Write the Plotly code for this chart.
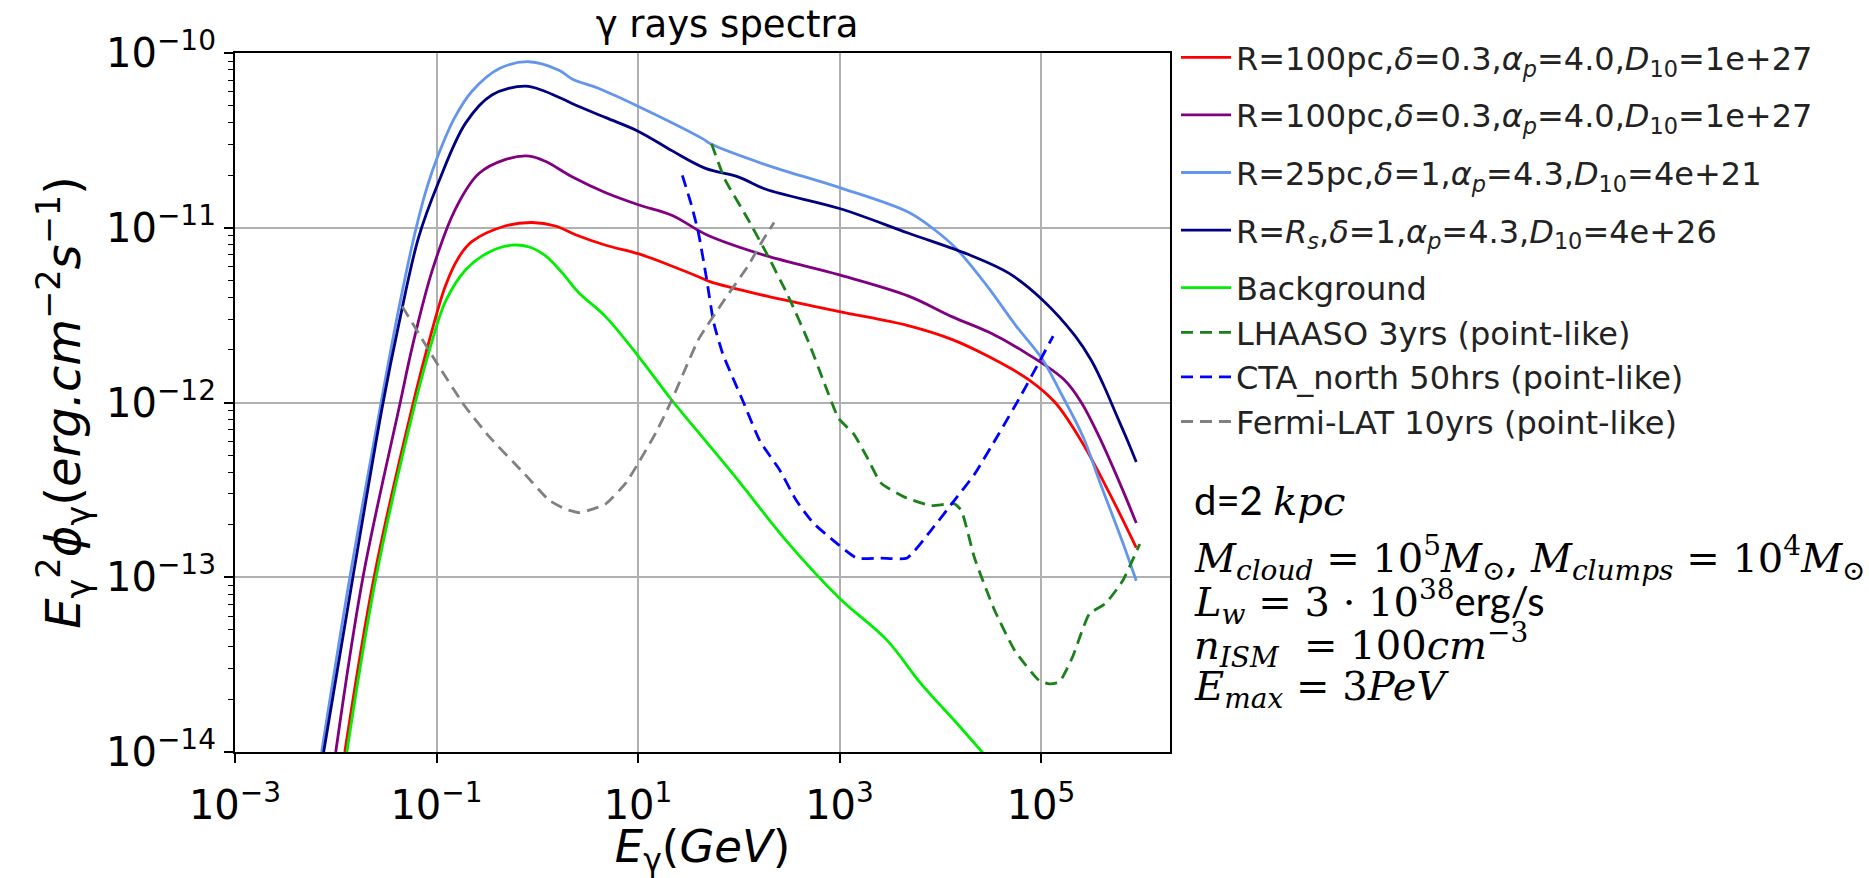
import numpy as np
import plotly.graph_objects as go

# ---------------- data ----------------
# energies: log10(E_gamma / GeV); fluxes: log10(E^2 Phi / erg cm^-2 s^-1)
red_logE = [-1.91, -1.62, -1.23, -1.06, -0.91, -0.78, -0.65, -0.32, -0.05, 0.18, 0.38, 0.68, 1.01, 1.34, 1.60,
            1.72, 2.27, 3.00, 3.68, 4.12, 4.49, 4.88, 5.14, 5.41, 5.68, 5.945]
red_logF = [-14.0, -13.0, -12.0, -11.62, -11.33, -11.17, -11.08, -10.99, -10.97, -10.99, -11.04, -11.10, -11.15,
            -11.22, -11.28, -11.31, -11.39, -11.48, -11.56, -11.64, -11.74, -11.87, -12.00, -12.23, -12.52, -12.83]

purple_logE = [-2.00, -1.73, -1.36, -1.24, -1.04, -0.81, -0.58, -0.32, -0.08, 0.08, 0.35, 0.68, 1.01, 1.34, 1.68,
               2.27, 3.00, 3.68, 4.12, 4.49, 4.86, 5.23, 5.40, 5.58, 5.81, 5.945]
purple_logF = [-14.0, -13.0, -12.0, -11.68, -11.24, -10.89, -10.69, -10.61, -10.59, -10.62, -10.71, -10.80, -10.87,
               -10.93, -11.04, -11.16, -11.27, -11.39, -11.51, -11.60, -11.72, -11.87, -12.00, -12.20, -12.50, -12.69]

lightblue_logE = [-2.14, -1.86, -1.55, -1.37, -1.21, -1.09, -0.98, -0.82, -0.65, -0.38, -0.08, 0.22, 0.35, 0.60,
                  1.02, 1.64, 1.72, 2.27, 3.00, 3.68, 3.94, 4.16, 4.46, 4.75, 5.01, 5.20, 5.42, 5.58, 5.81, 5.945]
lightblue_logF = [-14.0, -13.0, -12.0, -11.45, -11.02, -10.76, -10.58, -10.37, -10.22, -10.09, -10.05, -10.10,
                  -10.15, -10.20, -10.31, -10.49, -10.52, -10.64, -10.77, -10.91, -11.01, -11.12, -11.33, -11.56,
                  -11.75, -11.95, -12.20, -12.45, -12.80, -13.02]

navy_logE = [-2.12, -1.83, -1.53, -1.37, -1.18, -0.98, -0.71, -0.45, -0.12, 0.08, 0.35, 0.68, 1.01, 1.34, 1.67,
             2.00, 2.27, 3.00, 3.68, 4.31, 4.68, 5.01, 5.34, 5.50, 5.62, 5.74, 5.86, 5.945]
navy_logF = [-14.0, -13.0, -12.0, -11.54, -11.06, -10.74, -10.40, -10.24, -10.19, -10.22, -10.29, -10.37, -10.45,
             -10.56, -10.66, -10.71, -10.78, -10.89, -11.03, -11.16, -11.26, -11.41, -11.62, -11.76, -11.90, -12.06,
             -12.22, -12.34]

background_logE = [-1.89, -1.60, -1.21, -1.05, -0.91, -0.71, -0.48, -0.25, -0.08, 0.08, 0.25, 0.41, 0.68, 1.01,
                   1.34, 1.67, 2.00, 2.47, 3.00, 3.47, 3.81, 4.14, 4.43]
background_logF = [-14.0, -13.0, -12.0, -11.66, -11.42, -11.24, -11.14, -11.10, -11.11, -11.16, -11.26, -11.37,
                   -11.51, -11.74, -11.99, -12.22, -12.45, -12.79, -13.12, -13.36, -13.61, -13.82, -14.01]

lhaaso_logE = [1.73, 1.86, 2.09, 2.27, 2.49, 2.69, 2.85, 2.99, 3.14, 3.27, 3.41, 3.64, 3.91, 4.14, 4.21, 4.34,
               4.54, 4.74, 4.98, 5.08, 5.18, 5.31, 5.48, 5.64, 5.81, 5.98]
lhaaso_logF = [-10.52, -10.72, -10.95, -11.14, -11.39, -11.65, -11.89, -12.09, -12.18, -12.31, -12.46, -12.54,
               -12.59, -12.58, -12.62, -12.89, -13.19, -13.42, -13.59, -13.61, -13.60, -13.46, -13.21, -13.15,
               -13.02, -12.81]

cta_logE = [1.44, 1.53, 1.60, 1.68, 1.75, 1.84, 2.04, 2.21, 2.41, 2.57, 2.74, 2.94, 3.17, 3.41, 3.67, 3.91, 4.14,
            4.34, 4.58, 4.81, 4.98, 5.12]
cta_logF = [-10.70, -10.87, -11.03, -11.29, -11.54, -11.72, -11.99, -12.22, -12.39, -12.56, -12.69, -12.79, -12.89,
            -12.89, -12.89, -12.73, -12.56, -12.41, -12.18, -11.95, -11.77, -11.62]

fermi_logE = [-1.34, -0.98, -0.72, -0.47, -0.14, 0.12, 0.28, 0.42, 0.55, 0.68, 0.88, 1.01, 1.18, 1.34, 1.60, 1.86,
              2.09, 2.23, 2.35]
fermi_logF = [-11.45, -11.79, -12.02, -12.20, -12.40, -12.56, -12.61, -12.63, -12.61, -12.58, -12.46, -12.34, -12.17,
              -11.98, -11.64, -11.41, -11.22, -11.08, -10.97]

series_names = [
    "R=100pc,<i>δ</i>=0.3,<i>α<sub>p</sub></i>=4.0,<i>D</i><sub>10</sub>=1e+27",
    "R=100pc,<i>δ</i>=0.3,<i>α<sub>p</sub></i>=4.0,<i>D</i><sub>10</sub>=1e+27",
    "R=25pc,<i>δ</i>=1,<i>α<sub>p</sub></i>=4.3,<i>D</i><sub>10</sub>=4e+21",
    "R=<i>R<sub>s</sub></i>,<i>δ</i>=1,<i>α<sub>p</sub></i>=4.3,<i>D</i><sub>10</sub>=4e+26",
    "Background",
    "LHAASO 3yrs (point-like)",
    "CTA_north 50hrs (point-like)",
    "Fermi-LAT 10yrs (point-like)",
]

x_tick_vals = [1e-3, 1e-1, 1e1, 1e3, 1e5]
x_tick_text = ["10<sup>−3</sup>", "10<sup>−1</sup>", "10<sup>1</sup>", "10<sup>3</sup>", "10<sup>5</sup>"]
y_tick_vals = [1e-14, 1e-13, 1e-12, 1e-11, 1e-10]
y_tick_text = ["10<sup>−14</sup>", "10<sup>−13</sup>", "10<sup>−12</sup>", "10<sup>−11</sup>", "10<sup>−10</sup>"]

# ---------------- styling ----------------
W, H = 1869, 878
PL, PR, PT, PB = 235, 1170, 53, 752   # plot area in pixels

series = [
    (red_logE, red_logF, "#ff0000", None, "g1"),
    (purple_logE, purple_logF, "#800080", None, "g2"),
    (lightblue_logE, lightblue_logF, "#6495ed", None, "g3"),
    (navy_logE, navy_logF, "#000080", None, "g4"),
    (background_logE, background_logF, "#00ee00", None, "g5"),
    (lhaaso_logE, lhaaso_logF, "#1a801a", "12px,7px", "g5"),
    (cta_logE, cta_logF, "#0000ff", "12px,7px", "g5"),
    (fermi_logE, fermi_logF, "#808080", "12px,7px", "g5"),
]

fig = go.Figure()
for (lx, ly, col, dash, grp), name in zip(series, series_names):
    line = dict(color=col, width=2.8, shape="spline", smoothing=1.0 if dash is None else 0.5)
    if dash:
        line["dash"] = dash
    fig.add_trace(go.Scatter(
        x=np.power(10.0, lx), y=np.power(10.0, ly), mode="lines", name=name,
        line=line, legendgroup=grp,
    ))

axis_common = dict(
    type="log", showgrid=True, gridcolor="#b0b0b0", gridwidth=1.5,
    showline=True, mirror=True, linecolor="black", linewidth=2,
    ticks="outside", ticklen=9, tickwidth=1.5, tickcolor="black",
    zeroline=False, automargin=False,
    tickfont=dict(family="DejaVu Sans", size=40, color="black"),
)

minor_y = [m * 10.0 ** k for k in range(-14, -10) for m in range(2, 10)]

fig.update_layout(
    width=W, height=H,
    margin=dict(l=PL, r=W - PR, t=PT, b=H - PB, pad=0),
    paper_bgcolor="white", plot_bgcolor="white",
    title=dict(text="γ rays spectra", x=727 / W, xanchor="center",
               y=1 - 24 / H, yanchor="middle", yref="container",
               font=dict(family="DejaVu Sans", size=37, color="black")),
    xaxis=dict(axis_common, range=[-3, 6.28], tickvals=x_tick_vals, ticktext=x_tick_text,
               ticklabelstandoff=8,
               title=dict(text="<i>E</i><sub>γ</sub>(<i>GeV</i>)",
                          font=dict(family="DejaVu Sans", size=45, color="black"), standoff=8)),
    yaxis=dict(axis_common, range=[-14, -10], tickvals=y_tick_vals, ticktext=y_tick_text,
               minor=dict(tickvals=minor_y, ticks="outside", ticklen=5, tickwidth=1,
                          tickcolor="black", showgrid=False),
               title=dict(text="<i>E</i><sub>γ</sub><sup>2</sup><i>ϕ</i><sub>γ</sub>(<i>erg.cm</i><sup>−2</sup><i>s</i><sup>−1</sup>)",
                          font=dict(family="DejaVu Sans", size=48, color="black"), standoff=10)),
    legend=dict(x=1176 / W, xref="container", y=1 - 30 / H, yref="container",
                xanchor="left", yanchor="top", bgcolor="rgba(0,0,0,0)",
                font=dict(family="DejaVu Sans", size=32, color="#222222"),
                tracegroupgap=13, itemwidth=50, traceorder="grouped"),
    showlegend=True,
)

# parameter text block on the right
def paper_x(px):
    return (px - PL) / (PR - PL)

def paper_y(py):
    return (PB - py) / (PB - PT)

sans = '<span style="font-family:Lato">'
param_lines = [
    (500, sans + "d=2 </span><i>kpc</i>"),
    (558, "<i>M</i><sub><i>cloud</i></sub> = 10<sup>5</sup><i>M</i><sub>⊙</sub>, "
          "<i>M</i><sub><i>clumps</i></sub> = 10<sup>4</sup><i>M</i><sub>⊙</sub>"),
    (602, "<i>L</i><sub><i>w</i></sub> = 3 · 10<sup>38</sup>" + sans + "erg/s</span>"),
    (645, "<i>n</i><sub><i>ISM</i></sub>  = 100<i>cm</i><sup>−3</sup>"),
    (689, "<i>E</i><sub><i>max</i></sub> = 3<i>PeV</i>"),
]
for ypx, txt in param_lines:
    fig.add_annotation(x=paper_x(1192), y=paper_y(ypx), xref="paper", yref="paper",
                       xanchor="left", yanchor="middle", showarrow=False, align="left",
                       text=txt, font=dict(family="DejaVu Serif", size=40, color="black"))

fig.write_html("out.html")
